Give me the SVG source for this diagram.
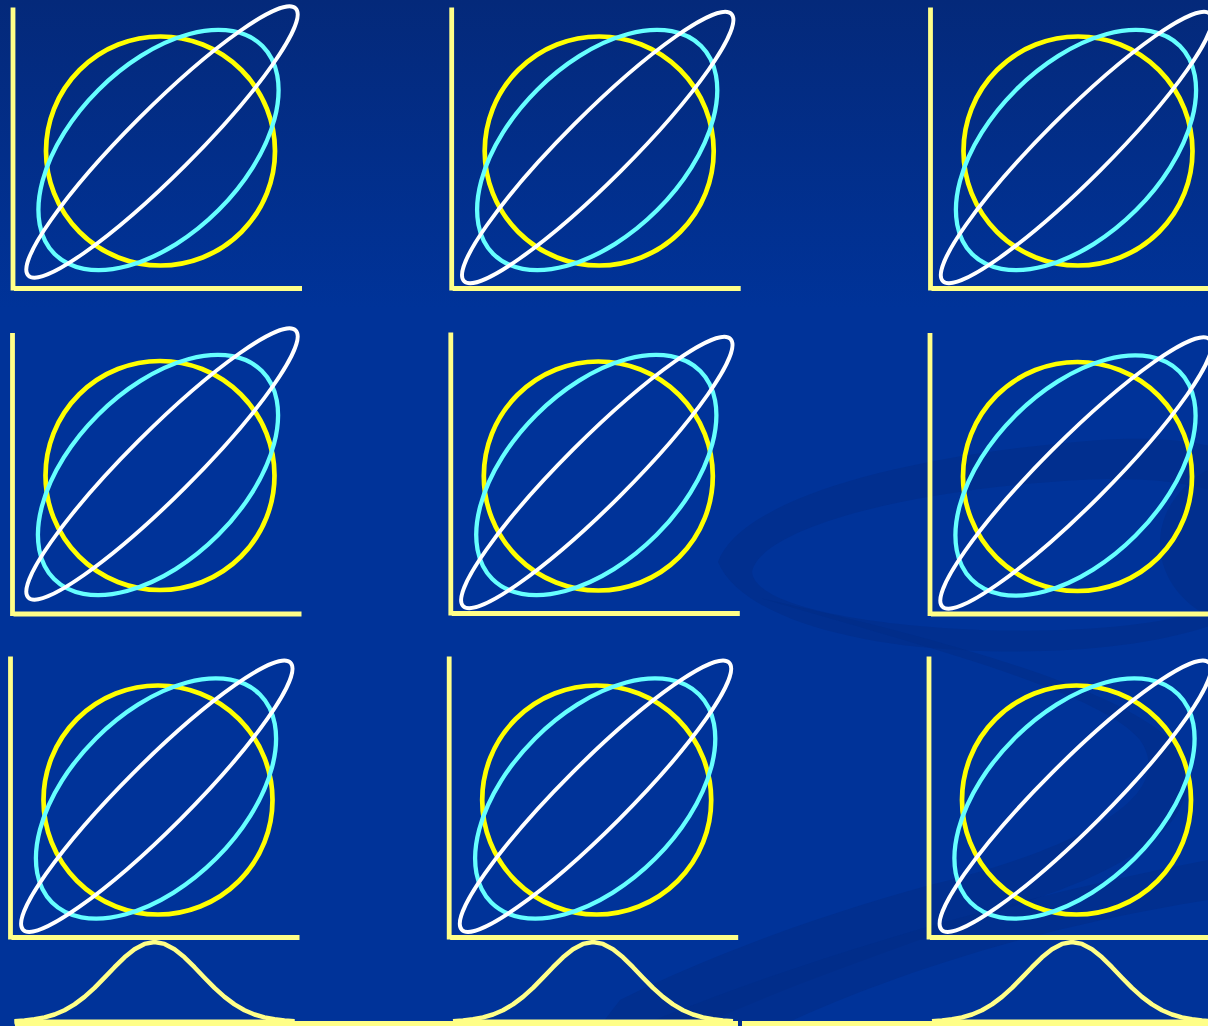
<svg xmlns="http://www.w3.org/2000/svg" xmlns:xlink="http://www.w3.org/1999/xlink" width="1208" height="1026" viewBox="0 0 1208 1026">
<defs>
<linearGradient id="bg" x1="0" y1="0" x2="0" y2="1">
<stop offset="0" stop-color="#04297a"/>
<stop offset="0.3" stop-color="#003399"/>
<stop offset="1" stop-color="#003399"/>
</linearGradient>
<style>
.axis{fill:none;stroke:#ffff88;stroke-width:4.8;stroke-linecap:butt}
.yel{fill:none;stroke:#ffff00;stroke-width:4.7}
.cyn{fill:none;stroke:#66ffff;stroke-width:4.3}
.wht{fill:none;stroke:#ffffff;stroke-width:3.9}
.bell{fill:none;stroke:#ffff88;stroke-width:4.5;stroke-linejoin:round}
.base{fill:none;stroke:#ffff88;stroke-width:5}
.swirl{fill:#022c86;opacity:0.5}
</style>
<path id="bellcurve" d="M-140,79.2 L-130,78.5 L-120,77.3 L-110,75.4 L-100,72.5 L-90,68.2 L-80,62.4 L-70,54.9 L-60,45.8 L-50,35.7 L-40,25.2 L-30,15.3 L-20,7.2 L-10,1.9 L0,0 L10,1.9 L20,7.2 L30,15.3 L40,25.2 L50,35.7 L60,45.8 L70,54.9 L80,62.4 L90,68.2 L100,72.5 L110,75.4 L120,77.3 L130,78.5 L140,79.2"/>
</defs>
<rect x="0" y="0" width="1208" height="1026" fill="url(#bg)"/>
<g id="background-swirl">
<path class="swirl" fill-rule="evenodd" d="M718,562 C740,500 900,455 1100,440 C1250,430 1300,480 1300,540 C1300,620 1150,660 960,650 C850,645 740,615 718,562 Z M752,572 C760,530 900,490 1080,480 C1220,472 1280,510 1270,560 C1260,610 1150,635 980,630 C860,625 755,605 752,572 Z"/>
<path class="swirl" d="M1208,470 C1170,490 1150,530 1165,570 C1175,595 1195,610 1208,615 Z"/>
<path class="swirl" d="M760,598 C900,640 1100,690 1140,740 C1175,790 1100,840 950,880 C850,905 720,950 620,1000 L600,1026 L700,1026 C800,980 950,930 1060,890 C1180,845 1210,790 1170,740 C1120,690 950,640 760,598 Z"/>
<path class="swirl" d="M640,1026 C800,960 1000,900 1208,860 L1208,900 C1020,930 880,980 780,1026 Z"/>
</g>
<g id="panel-r1c1" transform="translate(13,288.5)">
<path class="axis" d="M0,-281 V2 M1,0 H289"/>
<circle class="yel" cx="147.5" cy="-137.5" r="114.5"/>
<ellipse class="cyn" cx="145.5" cy="-138.5" rx="147" ry="85" transform="rotate(-45 145.5 -138.5)"/>
<ellipse class="wht" cx="149" cy="-146.5" rx="189" ry="33" transform="rotate(-45 149 -146.5)"/>
</g>
<g id="panel-r1c2" transform="translate(451.7,288.5)">
<path class="axis" d="M0,-281 V2 M1,0 H289"/>
<circle class="yel" cx="147.5" cy="-137.5" r="114.5"/>
<ellipse class="cyn" cx="145.5" cy="-138.5" rx="147" ry="85" transform="rotate(-45 145.5 -138.5)"/>
<ellipse class="wht" cx="146" cy="-141" rx="189" ry="33" transform="rotate(-45 146 -141)"/>
</g>
<g id="panel-r1c3" transform="translate(930.5,288.5)">
<path class="axis" d="M0,-281 V2 M1,0 H289"/>
<circle class="yel" cx="147.5" cy="-137.5" r="114.5"/>
<ellipse class="cyn" cx="145.5" cy="-138.5" rx="147" ry="85" transform="rotate(-45 145.5 -138.5)"/>
<ellipse class="wht" cx="146" cy="-141" rx="189" ry="33" transform="rotate(-45 146 -141)"/>
</g>
<g id="panel-r2c1" transform="translate(12.5,614)">
<path class="axis" d="M0,-281 V2 M1,0 H289"/>
<circle class="yel" cx="147.5" cy="-138.5" r="114.5"/>
<ellipse class="cyn" cx="145.5" cy="-139" rx="147" ry="85" transform="rotate(-45 145.5 -139)"/>
<ellipse class="wht" cx="149.5" cy="-150" rx="189" ry="33" transform="rotate(-45 149.5 -150)"/>
</g>
<g id="panel-r2c2" transform="translate(450.8,613.5)">
<path class="axis" d="M0,-281 V2 M1,0 H289"/>
<circle class="yel" cx="147.5" cy="-137.5" r="114.5"/>
<ellipse class="cyn" cx="145.5" cy="-138.5" rx="147" ry="85" transform="rotate(-45 145.5 -138.5)"/>
<ellipse class="wht" cx="146" cy="-141" rx="189" ry="33" transform="rotate(-45 146 -141)"/>
</g>
<g id="panel-r2c3" transform="translate(930,614)">
<path class="axis" d="M0,-281 V2 M1,0 H289"/>
<circle class="yel" cx="147.5" cy="-137.5" r="114.5"/>
<ellipse class="cyn" cx="145.5" cy="-138.5" rx="147" ry="85" transform="rotate(-45 145.5 -138.5)"/>
<ellipse class="wht" cx="146" cy="-141" rx="189" ry="33" transform="rotate(-45 146 -141)"/>
</g>
<g id="panel-r3c1" transform="translate(10.5,937.5)">
<path class="axis" d="M0,-281 V2 M1,0 H289"/>
<circle class="yel" cx="147.5" cy="-137.5" r="114.5"/>
<ellipse class="cyn" cx="145.5" cy="-139" rx="147" ry="85" transform="rotate(-45 145.5 -139)"/>
<ellipse class="wht" cx="146.3" cy="-141.3" rx="189" ry="33" transform="rotate(-45 146.3 -141.3)"/>
</g>
<g id="panel-r3c2" transform="translate(449.2,937.5)">
<path class="axis" d="M0,-281 V2 M1,0 H289"/>
<circle class="yel" cx="147.5" cy="-137.5" r="114.5"/>
<ellipse class="cyn" cx="146" cy="-139" rx="147" ry="85" transform="rotate(-45 146 -139)"/>
<ellipse class="wht" cx="146.3" cy="-141.3" rx="189" ry="33" transform="rotate(-45 146.3 -141.3)"/>
</g>
<g id="panel-r3c3" transform="translate(929,937.5)">
<path class="axis" d="M0,-281 V2 M1,0 H289"/>
<circle class="yel" cx="147.5" cy="-137.5" r="114.5"/>
<ellipse class="cyn" cx="145.5" cy="-139" rx="147" ry="85" transform="rotate(-45 145.5 -139)"/>
<ellipse class="wht" cx="146.3" cy="-141.3" rx="189" ry="33" transform="rotate(-45 146.3 -141.3)"/>
</g>
<g id="bottom-line">
<path class="base" d="M15,1023.5 H738 M742,1023.5 H1208"/>
</g>
<g id="bell-c1" transform="translate(154.5,942)">
<use xlink:href="#bellcurve" class="bell"/>
<path class="base" d="M-140,80 H140"/>
</g>
<g id="bell-c2" transform="translate(593,942)">
<use xlink:href="#bellcurve" class="bell"/>
<path class="base" d="M-140,80 H140"/>
</g>
<g id="bell-c3" transform="translate(1072,942)">
<use xlink:href="#bellcurve" class="bell"/>
<path class="base" d="M-140,80 H140"/>
</g>
</svg>
